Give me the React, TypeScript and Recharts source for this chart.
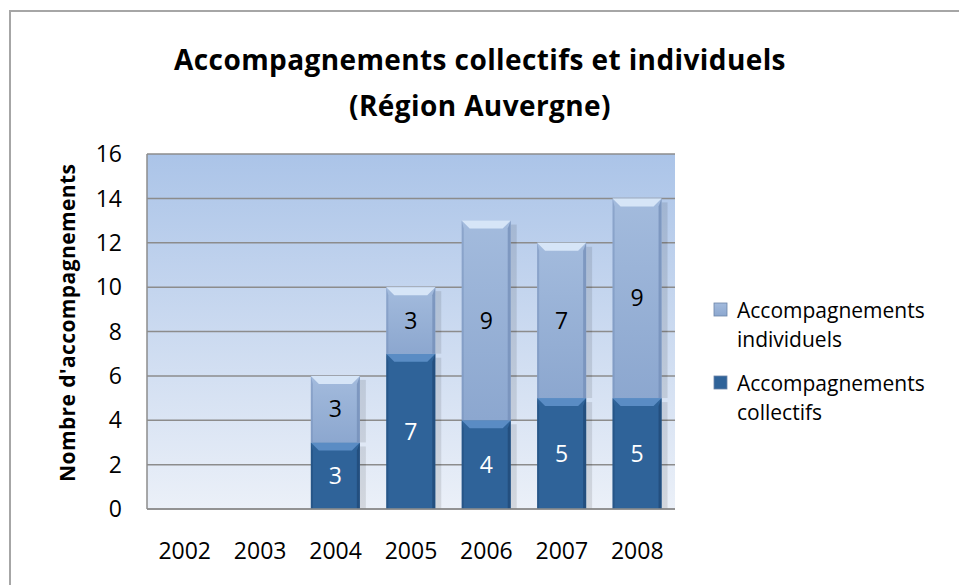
import * as React from "react";
import { Bar, BarChart, CartesianGrid, LabelList, XAxis, YAxis } from "recharts";

const YEARS = ["2002", "2003", "2004", "2005", "2006", "2007", "2008"];
const COLLECTIFS = [0, 0, 3, 7, 4, 5, 5];
const INDIVIDUELS = [0, 0, 3, 3, 9, 7, 9];
const Y_TICKS = [0, 2, 4, 6, 8, 10, 12, 14, 16];

const data = YEARS.map((year, i) => ({
  year,
  collectifs: COLLECTIFS[i],
  individuels: INDIVIDUELS[i],
}));

const FONT = "'Open Sans', sans-serif";
const DARK = "#2f6399";
const LIGHT = "#98b2d7";
const GRID = "#8c8c8c";

/* bevelled bar, roughly Office's "cool slant" look */
function BevelBar(props: any) {
  const { x, y, width, height, dark } = props;
  if (!height || height <= 0) return null;
  const b = Math.min(8, height / 2);
  const body = dark ? DARK : "url(#lightBody)";
  const top = dark ? "#5a8cc4" : "#d6e5f7";
  const side = dark ? "#204a78" : "#7590b9";
  return (
    <g>
      <rect x={x + width} y={y + 4} width={6} height={height - 4} fill="#000" opacity={0.1} />
      <rect x={x} y={y} width={width} height={height} fill={body} />
      <polygon points={`${x},${y} ${x + width},${y} ${x + width - b},${y + b} ${x + b},${y + b}`} fill={top} />
      <polygon
        points={`${x + width},${y} ${x + width},${y + height} ${x + width - 3},${y + height} ${x + width - 3},${y + b}`}
        fill={side}
        opacity={0.8}
      />
      <polygon points={`${x},${y} ${x + 2},${y + b} ${x + 2},${y + height} ${x},${y + height}`} fill={side} opacity={0.5} />
    </g>
  );
}

function Overlay() {
  const legend = [
    { c: "url(#lightBody)", t: ["Accompagnements", "individuels"], y: 303 },
    { c: DARK, t: ["Accompagnements", "collectifs"], y: 376 },
  ];
  return (
    <svg
      width={959}
      height={585}
      style={{ position: "absolute", left: 0, top: 0, pointerEvents: "none" }}
      fontFamily={FONT}
    >
      <line x1={9} y1={11} x2={959} y2={11} stroke="#a6a6a6" strokeWidth={2} />
      <line x1={10} y1={10} x2={10} y2={585} stroke="#a6a6a6" strokeWidth={2} />
      <text x={480} y={70} textAnchor="middle" fontSize={28} fontWeight={700} fill="#000" letterSpacing={0.4}>
        Accompagnements collectifs et individuels
      </text>
      <text x={480} y={116} textAnchor="middle" fontSize={28} fontWeight={700} fill="#000" letterSpacing={0.4}>
        (Région Auvergne)
      </text>
      <text
        transform="translate(75,323) rotate(-90)"
        textAnchor="middle"
        fontSize={21}
        fontWeight={700}
        fill="#000"
        textLength={318}
        lengthAdjust="spacing"
      >
        Nombre d'accompagnements
      </text>
      {legend.map((it, i) => (
        <g key={i}>
          <rect x={714} y={it.y} width={13} height={13} fill={it.c} stroke="#6c84a8" strokeWidth={0.8} />
          <text x={737} y={it.y + 15} fontSize={21} fill="#000">
            {it.t[0]}
          </text>
          <text x={737} y={it.y + 44} fontSize={21} fill="#000">
            {it.t[1]}
          </text>
        </g>
      ))}
    </svg>
  );
}

export default function App() {
  return (
    <div style={{ position: "absolute", left: 0, top: 0, width: 959, height: 585, background: "#fff" }}>
      <svg width={0} height={0} style={{ position: "absolute" }}>
        <defs>
          <linearGradient id="lightBody" x1="0" y1="0" x2="0" y2="1">
            <stop offset="0%" stopColor="#a3bbdd" />
            <stop offset="100%" stopColor="#8ca7cf" />
          </linearGradient>
        </defs>
      </svg>
      <BarChart
        width={959}
        height={585}
        data={data}
        barSize={49}
        margin={{ top: 154, right: 284, left: 0, bottom: 46 }}
        style={{ position: "absolute", left: 0, top: 0 }}
      >
        <defs>
          <linearGradient id="plotbg" x1="0" y1="0" x2="0" y2="1">
            <stop offset="0%" stopColor="#abc4e8" />
            <stop offset="100%" stopColor="#ebf0f8" />
          </linearGradient>
        </defs>
        <CartesianGrid vertical={false} stroke={GRID} strokeWidth={1.5} fill="url(#plotbg)" />
        <XAxis
          dataKey="year"
          height={30}
          tickLine={false}
          axisLine={{ stroke: GRID, strokeWidth: 1.5 }}
          tick={{ fontSize: 23, fill: "#000", fontFamily: FONT }}
          dy={26}
        />
        <YAxis
          width={147}
          domain={[0, 16]}
          ticks={Y_TICKS}
          interval={0}
          tickLine={false}
          axisLine={{ stroke: GRID, strokeWidth: 1.5 }}
          tick={{ fontSize: 23, fill: "#000", fontFamily: FONT }}
          dx={-17}
        />
        <Bar
          dataKey="collectifs"
          stackId="a"
          fill={DARK}
          isAnimationActive={false}
          shape={(p: any) => <BevelBar {...p} dark />}
        >
          <LabelList
            dataKey="collectifs"
            position="center"
            formatter={(v: any) => (v ? v : "")}
            style={{ fill: "#fff", fontSize: 23, fontFamily: FONT }}
          />
        </Bar>
        <Bar
          dataKey="individuels"
          stackId="a"
          fill={LIGHT}
          isAnimationActive={false}
          shape={(p: any) => <BevelBar {...p} />}
        >
          <LabelList
            dataKey="individuels"
            position="center"
            formatter={(v: any) => (v ? v : "")}
            style={{ fill: "#000", fontSize: 23, fontFamily: FONT }}
          />
        </Bar>
      </BarChart>
      <Overlay />
    </div>
  );
}
